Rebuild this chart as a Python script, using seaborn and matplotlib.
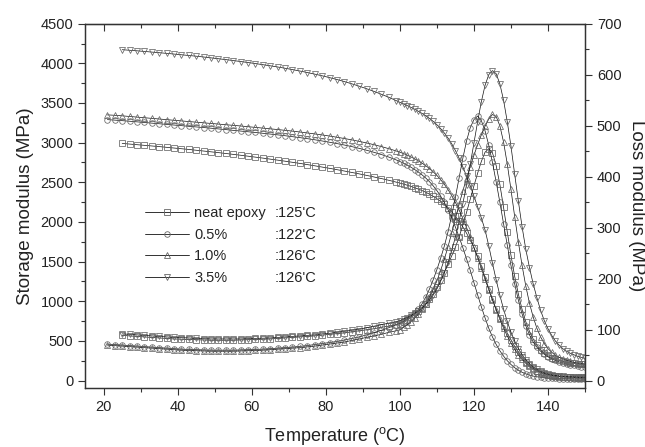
import pandas as pd
import numpy as np
import seaborn as sns
import matplotlib.pyplot as plt
from matplotlib.lines import Line2D
from matplotlib.ticker import MultipleLocator

# temperature grids (2 degC steps on the glassy plateau, 1 degC through the transition)
temp_a = list(range(21, 100, 2)) + list(range(100, 151))   # 0.5 % and 1.0 %
temp_b = list(range(25, 100, 2)) + list(range(100, 151))   # neat epoxy and 3.5 %

# storage modulus (MPa)
storage_neat = [2990, 2982, 2974, 2966, 2958, 2950, 2941, 2932, 2923, 2914, 2904, 2894, 2884, 2874,
                2863, 2852, 2841, 2829, 2817, 2805, 2792, 2779, 2766, 2752, 2738, 2723, 2708, 2692,
                2676, 2659, 2642, 2624, 2606, 2587, 2567, 2547, 2525, 2502,
                2490, 2477, 2463, 2448, 2432, 2414, 2395, 2374, 2350, 2323, 2293, 2259, 2220, 2176,
                2126, 2070, 2007, 1937, 1858, 1770, 1672, 1564, 1448, 1300, 1160, 1025, 900, 790,
                690, 598, 515, 430, 356, 292, 238, 193, 156, 126, 102, 84, 70, 60, 53, 48, 44, 41,
                39, 37, 36, 35, 34]
storage_05 = [3290, 3284, 3277, 3270, 3262, 3254, 3246, 3238, 3230, 3222, 3214, 3206, 3198, 3190,
              3182, 3173, 3164, 3155, 3146, 3137, 3128, 3118, 3108, 3098, 3087, 3075, 3063, 3050,
              3036, 3021, 3005, 2988, 2970, 2950, 2928, 2904, 2878, 2850, 2818, 2782,
              2762, 2740, 2716, 2690, 2661, 2629, 2593, 2553, 2507, 2455, 2395, 2326, 2246, 2154,
              2050, 1935, 1810, 1676, 1535, 1390, 1235, 1080, 930, 790, 660, 550, 455, 375, 308,
              250, 202, 162, 130, 104, 84, 68, 56, 47, 41, 36, 32, 29, 27, 25, 24, 23, 22, 21,
              20, 20, 19]
storage_10 = [3350, 3345, 3338, 3330, 3322, 3314, 3306, 3298, 3290, 3282, 3274, 3266, 3258, 3250,
              3242, 3234, 3226, 3218, 3210, 3201, 3192, 3183, 3174, 3165, 3155, 3145, 3134, 3122,
              3110, 3097, 3083, 3068, 3052, 3035, 3016, 2996, 2974, 2950, 2924, 2895,
              2880, 2862, 2842, 2820, 2796, 2770, 2741, 2709, 2673, 2632, 2586, 2534, 2475, 2408,
              2332, 2246, 2150, 2045, 1930, 1808, 1680, 1548, 1413, 1278, 1145, 1015, 890, 772,
              662, 562, 472, 393, 325, 267, 219, 179, 147, 121, 101, 86, 74, 65, 58, 53, 49, 46,
              44, 42, 40, 39, 38]
storage_35 = [4172, 4165, 4158, 4150, 4142, 4134, 4126, 4117, 4108, 4099, 4090, 4080, 4069, 4058,
              4047, 4035, 4023, 4010, 3997, 3983, 3969, 3954, 3938, 3921, 3903, 3884, 3864, 3843,
              3820, 3796, 3770, 3742, 3712, 3680, 3646, 3610, 3572, 3530,
              3508, 3488, 3467, 3445, 3421, 3395, 3368, 3338, 3305, 3268, 3226, 3178, 3122, 3058,
              2985, 2900, 2803, 2695, 2578, 2455, 2325, 2190, 2050, 1900, 1700, 1480, 1270, 1075,
              900, 745, 610, 497, 403, 326, 263, 212, 172, 140, 115, 96, 82, 71, 63, 57, 53, 50,
              47, 45, 43, 42, 41]

# loss modulus (MPa)
loss_neat = [89, 88, 87, 86, 85, 84, 83, 82, 81.5, 81, 80.5, 80, 79.5, 79.5, 79.5, 79.5, 80, 80.5,
             81, 81.5, 82, 83, 84, 85, 86, 87, 88, 89.5, 91, 92.5, 94, 96, 98, 100, 102, 105, 107, 110,
             112, 116, 120, 125, 130, 136, 143, 151, 160, 171, 183, 197, 212, 228, 245, 262, 282,
             305, 330, 356, 382, 407, 430, 448, 455, 447, 422, 385, 340, 292, 246, 205, 170, 140,
             116, 97, 82, 70, 61, 54, 49, 45, 42, 40, 38, 36, 35, 34, 33, 32, 32]
loss_05 = [72, 71, 70, 69, 68, 67, 66, 65, 64, 63, 62, 61.5, 61, 60.5, 60, 60, 60, 60, 60.5, 61,
           61.5, 62, 63, 64, 65, 66, 67.5, 69, 71, 73, 75, 77, 80, 83, 86, 90, 94, 99, 104, 110,
           113, 117, 122, 127, 133, 140, 151, 164, 180, 198, 218, 240, 264, 292, 324, 360, 398,
           436, 470, 496, 512, 519, 510, 490, 462, 428, 390, 350, 308, 266, 226, 190, 158, 131,
           108, 90, 76, 66, 58, 52, 47, 43, 40, 37, 35, 33, 31, 30, 29, 28, 27]
loss_10 = [70, 69, 68, 67, 66, 65, 64, 63, 62, 61, 60, 59.5, 59, 58.5, 58, 58, 58, 58, 58.5, 59,
           59.5, 60, 61, 62, 63, 64, 65, 66.5, 68, 70, 72, 74, 76, 79, 82, 85, 88, 91, 95, 98,
           100, 105, 110, 116, 123, 131, 140, 151, 164, 179, 196, 216, 238, 263, 290, 318, 346,
           372, 397, 420, 442, 463, 482, 499, 513, 522, 518, 500, 468, 425, 375, 322, 272, 226,
           186, 152, 125, 103, 86, 73, 63, 56, 50, 46, 43, 40, 38, 36, 35, 34, 33]
loss_35 = [92, 91, 90, 89, 88, 87, 86, 85, 84.5, 84, 83, 82.5, 82, 82, 82, 82, 82, 82.5, 83, 83.5,
           84, 85, 86, 87, 88, 89, 90, 92, 93, 95, 97, 99, 101, 104, 107, 110, 113, 116,
           118, 121, 124, 128, 132, 137, 143, 150, 158, 168, 180, 195, 212, 232, 255, 282, 313,
           347, 384, 424, 466, 508, 547, 579, 600, 608, 602, 582, 550, 508, 460, 405, 352, 302,
           258, 222, 190, 163, 138, 118, 102, 89, 78, 70, 63, 58, 54, 51, 48, 46, 44]

samples = ['neat epoxy', '0.5%', '1.0%', '3.5%']
tg_labels = [":125'C", ":122'C", ":126'C", ":126'C"]
markers = {'neat epoxy': 's', '0.5%': 'o', '1.0%': '^', '3.5%': 'v'}

frames = []
for name, t, e, l in [('neat epoxy', temp_b, storage_neat, loss_neat),
                      ('0.5%', temp_a, storage_05, loss_05),
                      ('1.0%', temp_a, storage_10, loss_10),
                      ('3.5%', temp_b, storage_35, loss_35)]:
    frames.append(pd.DataFrame({'T': t, 'storage': e, 'loss': l, 'sample': name}))
df = pd.concat(frames, ignore_index=True)

sns.set_style('ticks')
plt.rcParams['font.family'] = ['Liberation Sans', 'DejaVu Sans']
plt.rcParams['mathtext.fontset'] = 'custom'
plt.rcParams['mathtext.rm'] = 'Liberation Sans'

fig = plt.figure(figsize=(6.45, 4.47), dpi=100)
ax = fig.add_axes([0.132, 0.131, 0.775, 0.816])
ax2 = ax.twinx()

line_kw = dict(color='#111111', lw=0.5, ms=4, mfc='none', mec='#666666', mew=0.55)
sns.lineplot(data=df, x='T', y='storage', style='sample', markers=markers, dashes=False,
             estimator=None, sort=False, legend=False, ax=ax, **line_kw)
sns.lineplot(data=df, x='T', y='loss', style='sample', markers=markers, dashes=False,
             estimator=None, sort=False, legend=False, ax=ax2, **line_kw)

ax.set_xlim(15, 150)
ax.set_ylim(-100, 4500)
ax2.set_ylim(-15, 700)

ax.xaxis.set_major_locator(MultipleLocator(20))
ax.xaxis.set_minor_locator(MultipleLocator(10))
ax.yaxis.set_major_locator(MultipleLocator(500))
ax.yaxis.set_minor_locator(MultipleLocator(250))
ax2.yaxis.set_major_locator(MultipleLocator(100))
ax2.yaxis.set_minor_locator(MultipleLocator(50))

tick_col = '#333333'
for a in (ax, ax2):
    a.tick_params(which='major', direction='out', length=5, width=0.8, colors=tick_col,
                  labelsize=10.5, labelcolor='#222222')
    a.tick_params(which='minor', direction='out', length=3, width=0.8, colors=tick_col)
    for s in a.spines.values():
        s.set_color(tick_col)
        s.set_linewidth(0.9)

top = ax.secondary_xaxis('top')
top.xaxis.set_major_locator(MultipleLocator(20))
top.xaxis.set_minor_locator(MultipleLocator(10))
top.tick_params(which='major', direction='in', length=5, width=0.8, colors=tick_col, labeltop=False)
top.tick_params(which='minor', direction='in', length=3, width=0.8, colors=tick_col)
top.spines['top'].set_color(tick_col)

ax.set_xlabel(r'Temperature ($^{\mathrm{o}}$C)', fontsize=13, color='#222222', labelpad=8)
ax.set_ylabel('Storage modulus (MPa)', fontsize=13.5, color='#222222', labelpad=5)
ax2.set_ylabel('Loss modulus (MPa)', fontsize=13.5, color='#222222', rotation=270, labelpad=17)

handles = [Line2D([], [], color='#111111', lw=0.6, marker=markers[s], ms=4, mfc='none',
                  mec='#666666', mew=0.6) for s in samples]
leg = ax2.legend(handles, samples, loc='upper left', bbox_to_anchor=(0.12, 0.50),
                 frameon=False, handlelength=3.0, handletextpad=0.35, labelspacing=0.52,
                 fontsize=10.5, borderaxespad=0, borderpad=0, numpoints=1)

fig.canvas.draw()
inv = fig.transFigure.inverted()
x_col = inv.transform((275, 0))[0]
for txt, tg in zip(leg.get_texts(), tg_labels):
    bb = txt.get_window_extent()
    y = inv.transform((0, bb.y0))[1]
    fig.text(x_col, y, tg, fontsize=10.5, color='#222222', va='bottom', ha='left')

plt.savefig('out.png', dpi=100)
